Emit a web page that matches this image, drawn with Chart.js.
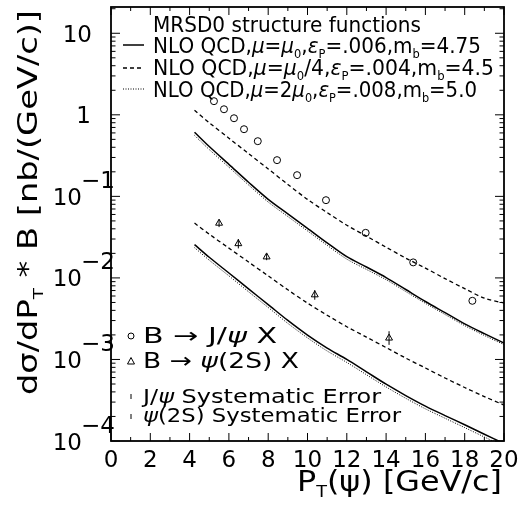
<!DOCTYPE html>
<html>
<head>
<meta charset="utf-8">
<script src="https://cdn.jsdelivr.net/npm/chart.js@4.4.1/dist/chart.umd.min.js"></script>
<style>
  html, body { margin: 0; padding: 0; background: #fff; }
  canvas { display: block; }
</style>
</head>
<body>
<canvas id="xsecChart" width="528" height="506"></canvas>
<script>
// theory curves, pT grid [GeV/c]
const ptGrid = [4.25, 5, 6, 7, 8, 9, 10, 11, 12, 13, 14, 15, 16, 17, 18, 19, 20];

// B -> J/psi X, NLO QCD bands
const jpsiNominal = [0.612, 0.408, 0.247, 0.149, 0.092, 0.0611, 0.0406, 0.0269, 0.0182, 0.0136, 0.0101, 0.00721, 0.00514, 0.00375, 0.00273, 0.00207, 0.00159];
const jpsiLowScale = [1.14, 0.80, 0.517, 0.335, 0.217, 0.140, 0.0918, 0.0632, 0.0443, 0.0325, 0.0238, 0.0175, 0.0132, 0.0098, 0.00738, 0.00565, 0.00491];
const jpsiHighScale = [0.56, 0.375, 0.228, 0.138, 0.0852, 0.0566, 0.0377, 0.0251, 0.0170, 0.0127, 0.0095, 0.0068, 0.00488, 0.00356, 0.0026, 0.00197, 0.00152];

// B -> psi(2S) X, NLO QCD bands
const psi2sNominal = [0.0256, 0.0179, 0.01148, 0.00734, 0.00471, 0.00301, 0.00199, 0.00138, 0.001, 0.000705, 0.000497, 0.000361, 0.000268, 0.000205, 0.000158, 0.000121, 0.0000931];
const psi2sLowScale = [0.047, 0.0344, 0.0232, 0.01567, 0.0106, 0.00714, 0.00491, 0.00349, 0.00252, 0.00188, 0.0014, 0.00104, 0.000786, 0.000592, 0.000453, 0.000351, 0.000276];
const psi2sHighScale = [0.0235, 0.0165, 0.0106, 0.00676, 0.00434, 0.00277, 0.00184, 0.00127, 0.00092, 0.00065, 0.00046, 0.000334, 0.000248, 0.00019, 0.000146, 0.000112, 0.000086];

// measured points
const jpsiPt = [5.24, 5.75, 6.26, 6.77, 7.47, 8.45, 9.47, 10.94, 12.96, 15.38, 18.39];
const jpsiXsec = [1.47, 1.17, 0.908, 0.666, 0.475, 0.278, 0.182, 0.0898, 0.0357, 0.0155, 0.00524];

const psi2sPt = [5.50, 6.48, 7.92, 10.37, 14.15];
const psi2sXsec = [0.0469, 0.0263, 0.0181, 0.0062, 0.00183];
const psi2sErrLo = [0.042, 0.023, 0.0165, 0.0054, 0.00151];
const psi2sErrHi = [0.052, 0.030, 0.0198, 0.0071, 0.00222];

// axis ticks
const xTickValues = [0, 2, 4, 6, 8, 10, 12, 14, 16, 18, 20];
const yDecades = [1, 0, -1, -2, -3, -4];

const FONT = '"DejaVu Sans", "Liberation Sans", sans-serif';

const toPoints = (xs, ys) => xs.map((x, i) => ({ x: x, y: ys[i] }));

function curve(values, dash, width) {
    return {
        data: toPoints(ptGrid, values),
        showLine: true,
        borderColor: '#000',
        borderWidth: width,
        borderDash: dash,
        pointRadius: 0,
        tension: 0.3,
        fill: false
    };
}

// draws text made of [text, kind] parts; kind '' | 'it' | 'sub' | 'sup'
function drawRich(ctx, parts, x, y, size, opts = {}) {
    const fontFor = (kind) => {
        if (kind === 'sub') return `${Math.round(size * 0.55)}px ${FONT}`;
        if (kind === 'it') return `italic ${size}px ${FONT}`;
        return `${size}px ${FONT}`;
    };
    ctx.save();
    ctx.textBaseline = 'alphabetic';
    ctx.textAlign = 'left';
    let total = 0;
    const widths = parts.map(([t, k]) => {
        ctx.font = fontFor(k);
        const w = ctx.measureText(t).width;
        total += w;
        return w;
    });
    const sx = opts.width ? opts.width / total : 1;
    ctx.translate(x, y);
    if (opts.rotate) ctx.rotate(opts.rotate);
    if (opts.align === 'right') ctx.translate(-total * sx, 0);
    ctx.scale(sx, 1);
    let cx = 0;
    parts.forEach(([t, k], i) => {
        ctx.font = fontFor(k);
        let dy = 0;
        if (k === 'sub') dy = size * 0.22;
        if (k === 'sup') dy = -size * 0.75;
        ctx.fillStyle = '#000';
        ctx.fillText(t, cx, dy);
        cx += widths[i];
    });
    ctx.restore();
}

const frameAndTicks = {
    id: 'frameAndTicks',
    afterDatasetsDraw(chart) {
        const { ctx, chartArea: a, scales: { x, y } } = chart;
        ctx.save();
        ctx.strokeStyle = '#000';
        ctx.lineWidth = 1;

        // error bars on psi(2S) points
        const meta = chart.getDatasetMeta(7);
        meta.data.forEach((pt, i) => {
            ctx.beginPath();
            ctx.moveTo(pt.x, y.getPixelForValue(psi2sErrLo[i]));
            ctx.lineTo(pt.x, y.getPixelForValue(psi2sErrHi[i]));
            ctx.stroke();
        });

        for (let v = 0; v <= 20; v++) {
            const px = x.getPixelForValue(v);
            const len = v % 2 === 0 ? 8 : 4;
            ctx.beginPath();
            ctx.moveTo(px, a.bottom); ctx.lineTo(px, a.bottom - len);
            ctx.moveTo(px, a.top); ctx.lineTo(px, a.top + len);
            ctx.stroke();
        }
        for (let e = -4; e <= 1; e++) {
            for (let m = 1; m <= 9; m++) {
                const val = m * Math.pow(10, e);
                if (val > y.max) break;
                const py = y.getPixelForValue(val);
                const len = m === 1 ? 9 : 4.5;
                ctx.beginPath();
                ctx.moveTo(a.left, py); ctx.lineTo(a.left + len, py);
                ctx.moveTo(a.right, py); ctx.lineTo(a.right - len, py);
                ctx.stroke();
            }
        }

        ctx.lineWidth = 1.8;
        ctx.strokeRect(a.left, a.top, a.right - a.left, a.bottom - a.top);
        ctx.restore();
    },
    afterDraw(chart) {
        const { ctx, scales: { x, y } } = chart;

        // x tick labels
        ctx.save();
        ctx.font = `23px ${FONT}`;
        ctx.fillStyle = '#000';
        ctx.textAlign = 'center';
        ctx.textBaseline = 'alphabetic';
        xTickValues.forEach(v => {
            ctx.fillText(String(v), x.getPixelForValue(v), 467);
        });
        ctx.restore();

        // y tick labels as powers of ten
        yDecades.forEach(e => {
            const py = y.getPixelForValue(Math.pow(10, e)) + 8.5;
            if (e === 1) drawRich(ctx, [['10', '']], 92, py, 23, { align: 'right' });
            else if (e === 0) drawRich(ctx, [['1', '']], 91, py, 23, { align: 'right' });
            else {
                drawRich(ctx, [['10', '']], 82, py, 23, { align: 'right' });
                drawRich(ctx, [['\u2212' + (-e), '']], 81, py - 17, 23, {});
            }
        });

        // axis titles
        drawRich(ctx, [['P', ''], ['T', 'sub'], ['(', ''], ['\u03c8', ''], [') [GeV/c]', '']],
            297, 491, 29, { width: 205 });
        drawRich(ctx, [['d\u03c3/dP', ''], ['T', 'sub'], [' * B [nb/(GeV/c)]', '']],
            37, 395, 26, { width: 385, rotate: -Math.PI / 2 });

        // theory legend
        drawRich(ctx, [['MRSD0 structure functions', '']], 153, 32, 21, { width: 268 });
        drawRich(ctx, [['NLO QCD,', ''], ['\u03bc', 'it'], ['=', ''], ['\u03bc', 'it'], ['0', 'sub'], [',', ''],
            ['\u03b5', 'it'], ['P', 'sub'], ['=.006,m', ''], ['b', 'sub'], ['=4.75', '']], 153, 53, 21, { width: 328 });
        drawRich(ctx, [['NLO QCD,', ''], ['\u03bc', 'it'], ['=', ''], ['\u03bc', 'it'], ['0', 'sub'], ['/4,', ''],
            ['\u03b5', 'it'], ['P', 'sub'], ['=.004,m', ''], ['b', 'sub'], ['=4.5', '']], 153, 75, 21, { width: 341 });
        drawRich(ctx, [['NLO QCD,', ''], ['\u03bc', 'it'], ['=2', ''], ['\u03bc', 'it'], ['0', 'sub'], [',', ''],
            ['\u03b5', 'it'], ['P', 'sub'], ['=.008,m', ''], ['b', 'sub'], ['=5.0', '']], 153, 97, 21, { width: 324 });

        ctx.save();
        ctx.strokeStyle = '#000';
        [[45, [], 1.5], [68, [4, 3], 1.3], [89, [1, 1.5], 1]].forEach(([ly, dash, w]) => {
            ctx.lineWidth = w;
            ctx.setLineDash(dash);
            ctx.beginPath();
            ctx.moveTo(123, ly); ctx.lineTo(144, ly);
            ctx.stroke();
        });
        ctx.setLineDash([]);

        // data legend markers
        ctx.lineWidth = 1;
        ctx.beginPath();
        ctx.arc(131, 336, 3, 0, Math.PI * 2);
        ctx.stroke();
        ctx.beginPath();
        ctx.moveTo(131, 357.5); ctx.lineTo(134.5, 364); ctx.lineTo(127.5, 364); ctx.closePath();
        ctx.stroke();
        ctx.beginPath();
        ctx.moveTo(131, 394); ctx.lineTo(131, 399);
        ctx.moveTo(131, 414); ctx.lineTo(131, 419);
        ctx.stroke();
        ctx.restore();

        drawRich(ctx, [['B \u2192 J/', ''], ['\u03c8', 'it'], [' X', '']], 143, 343, 21, { width: 134 });
        drawRich(ctx, [['B \u2192 ', ''], ['\u03c8', 'it'], ['(2S) X', '']], 143, 368, 21, { width: 156 });
        drawRich(ctx, [['J/', ''], ['\u03c8', 'it'], [' Systematic Error', '']], 143, 403, 20, { width: 238 });
        drawRich(ctx, [['\u03c8', 'it'], ['(2S) Systematic Error', '']], 143, 422, 20, { width: 258 });
    }
};

const ctx = document.getElementById('xsecChart').getContext('2d');

new Chart(ctx, {
    type: 'scatter',
    data: {
        datasets: [
            curve(jpsiNominal, [], 1.5),
            curve(jpsiLowScale, [4, 3], 1.3),
            curve(jpsiHighScale, [1, 1.5], 1),
            curve(psi2sNominal, [], 1.5),
            curve(psi2sLowScale, [4, 3], 1.3),
            curve(psi2sHighScale, [1, 1.5], 1),
            {
                data: toPoints(jpsiPt, jpsiXsec),
                pointStyle: 'circle',
                pointRadius: 3.5,
                borderColor: '#000',
                borderWidth: 1,
                backgroundColor: 'rgba(0,0,0,0)'
            },
            {
                data: toPoints(psi2sPt, psi2sXsec),
                pointStyle: 'triangle',
                pointRadius: 4,
                borderColor: '#000',
                borderWidth: 1,
                backgroundColor: 'rgba(0,0,0,0)'
            }
        ]
    },
    options: {
        responsive: false,
        animation: false,
        layout: { padding: { left: 111, right: 24, top: 7, bottom: 65 } },
        plugins: { legend: { display: false }, tooltip: { enabled: false } },
        scales: {
            x: { type: 'linear', min: 0, max: 20, display: false },
            y: { type: 'logarithmic', min: 1e-4, max: 21, display: false }
        }
    },
    plugins: [frameAndTicks]
});
</script>
</body>
</html>
